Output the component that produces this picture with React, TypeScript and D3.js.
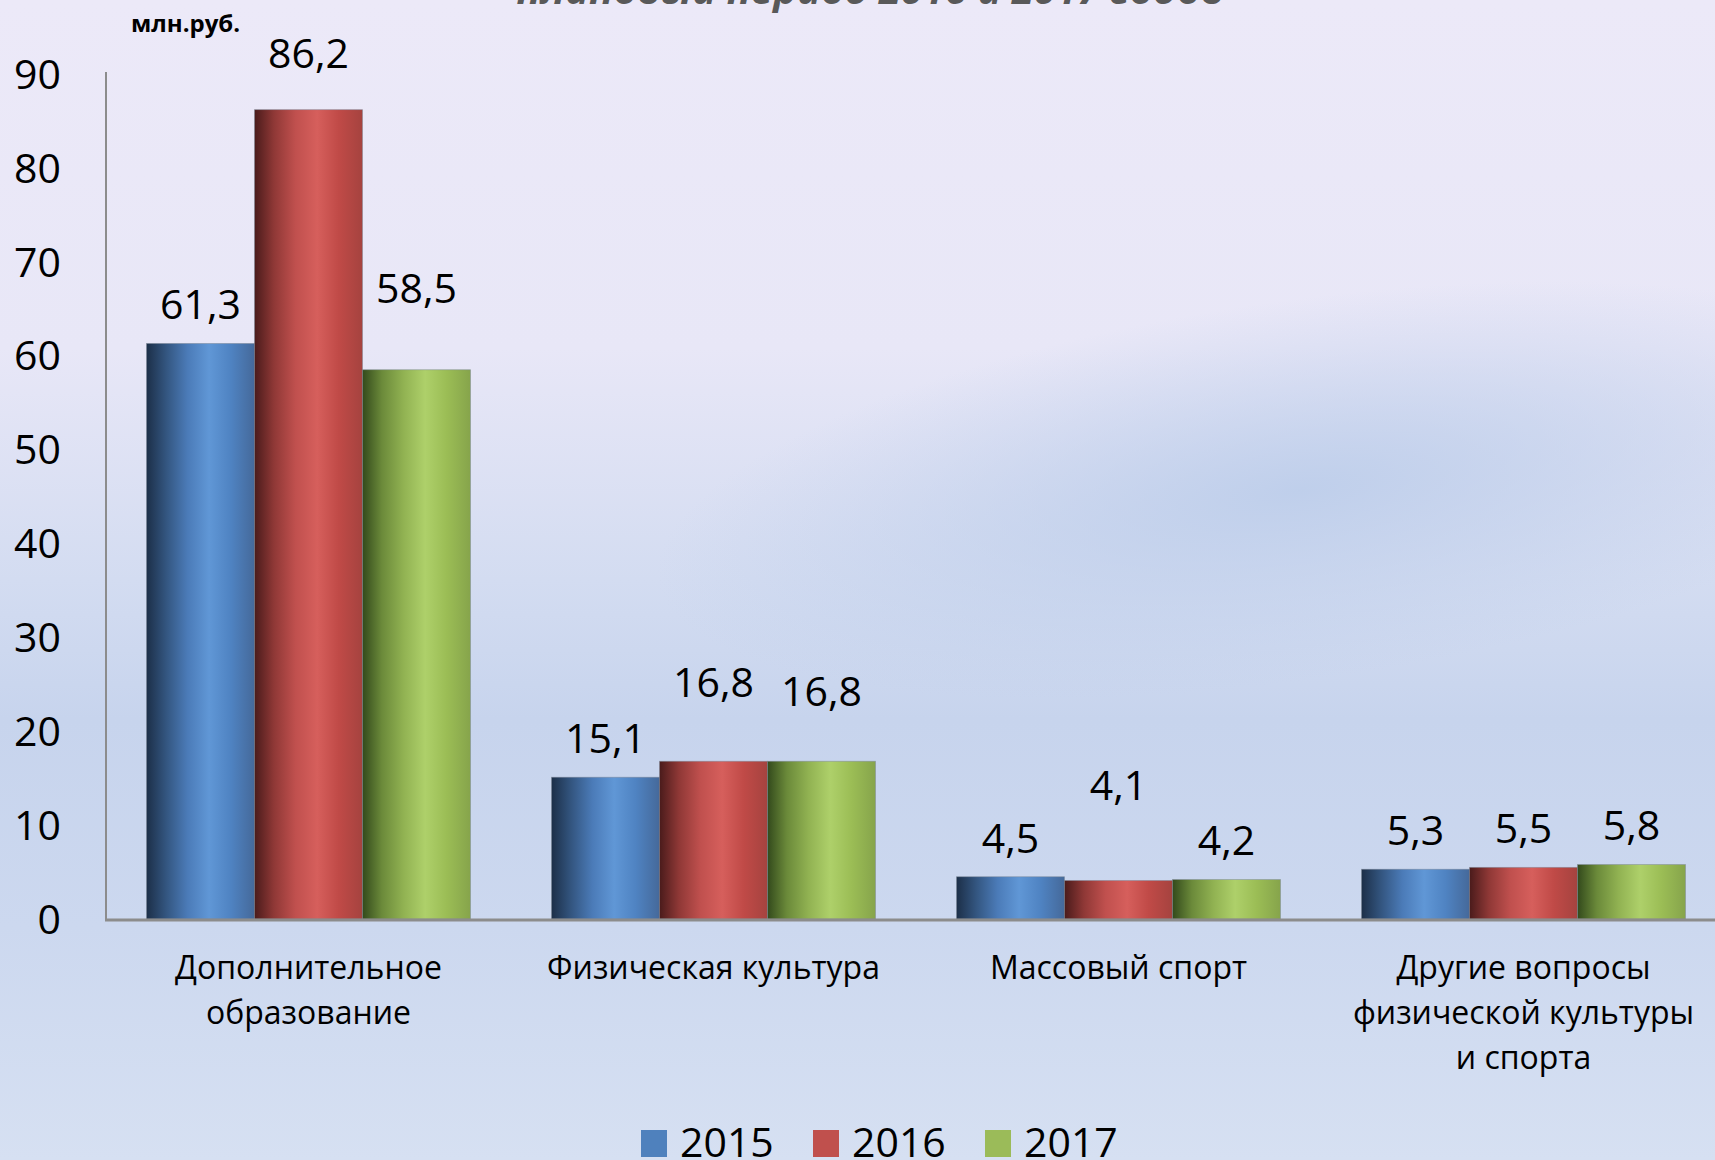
import React, { useEffect, useRef } from 'react';
import * as d3 from 'd3';

const categories = [
    "Дополнительное\nобразование",
    "Физическая культура",
    "Массовый спорт",
    "Другие вопросы\nфизической культуры\nи спорта",
];
const years = ["2015", "2016", "2017"];
const values2015 = [61.3, 15.1, 4.5, 5.3];
const values2016 = [86.2, 16.8, 4.1, 5.5];
const values2017 = [58.5, 16.8, 4.2, 5.8];
const yTicks = [0, 10, 20, 30, 40, 50, 60, 70, 80, 90];

// extra lift for labels that were dragged by hand in the original
const labelNudge = [
    [0, 17, 43],
    [0, 40, 31],
    [0, 56, 0],
    [0, 0, 0],
];

const W = 1715;
const H = 1160;
const FONT = "'Open Sans', 'DejaVu Sans', sans-serif";

function App() {
    const ref = useRef<SVGSVGElement>(null);

    useEffect(() => {
        document.body.style.margin = '0';
        const series = [values2015, values2016, values2017];
        const gradStops = [
            ["#1c2f48", "#33557f", "#4b7bb8", "#6097d6", "#4f83c2", "#45699a"],
            ["#4a1b1b", "#8f3836", "#c0504e", "#d65f5c", "#c04a47", "#a5433f"],
            ["#334a1c", "#6b8a3a", "#91b252", "#aed06a", "#9bbd55", "#86a44b"],
        ];
        const legendColors = ["#4f81bd", "#c0504d", "#9bbb59"];

        const svg = d3.select(ref.current);
        svg.selectAll("*").remove();
        const defs = svg.append("defs");

        // background
        const bg = defs.append("linearGradient").attr("id", "bg")
            .attr("x1", "0%").attr("x2", "0%").attr("y1", "0%").attr("y2", "100%");
        [["0%", "#ece9f8"], ["30%", "#e8e7f7"], ["50%", "#d3dcf1"], ["62%", "#c7d4ed"], ["80%", "#ccd8ef"], ["100%", "#d6e0f2"]]
            .forEach(s => bg.append("stop").attr("offset", s[0]).attr("stop-color", s[1]));
        const blob = defs.append("radialGradient").attr("id", "blob")
            .attr("cx", "50%").attr("cy", "50%").attr("r", "50%");
        blob.append("stop").attr("offset", "0%").attr("stop-color", "#bccdea").attr("stop-opacity", 0.9);
        blob.append("stop").attr("offset", "100%").attr("stop-color", "#bccdea").attr("stop-opacity", 0);

        svg.append("rect").attr("width", W).attr("height", H).attr("fill", "url(#bg)");
        svg.append("ellipse").attr("cx", 1300).attr("cy", 490).attr("rx", 650).attr("ry", 190)
            .attr("fill", "url(#blob)").attr("transform", "rotate(-8 1300 490)");

        gradStops.forEach((stops, i) => {
            const g = defs.append("linearGradient").attr("id", "bar" + i)
                .attr("x1", "0%").attr("x2", "100%").attr("y1", "0%").attr("y2", "0%");
            const offs = ["0%", "18%", "38%", "58%", "78%", "100%"];
            stops.forEach((c, k) => g.append("stop").attr("offset", offs[k]).attr("stop-color", c));
        });

        const x = d3.scaleBand().domain(categories).range([106, 1726]).paddingInner(0.2).paddingOuter(0.1);
        const xs = d3.scaleBand().domain(years).range([0, x.bandwidth()]);
        const y = d3.scaleLinear().domain([0, 90]).range([919, 74]);

        // title remnant (cut off at the top in the original)
        svg.append("text")
            .attr("x", 870).attr("y", 4)
            .attr("text-anchor", "middle")
            .attr("font-family", FONT).attr("font-size", 40)
            .attr("font-weight", "bold").attr("font-style", "italic")
            .attr("fill", "#595959")
            .text("плановый период 2016 и 2017 годов");

        svg.append("text")
            .attr("x", 131).attr("y", 32)
            .attr("font-family", FONT).attr("font-size", 24).attr("font-weight", "bold")
            .attr("fill", "#000")
            .text("млн.руб.");

        // y tick labels
        svg.append("g").selectAll("text").data(yTicks).enter().append("text")
            .attr("x", 61).attr("y", d => y(d))
            .attr("dy", "0.36em")
            .attr("text-anchor", "end")
            .attr("font-family", FONT).attr("font-size", 41)
            .attr("fill", "#000")
            .text(d => d);

        // bars
        const groups = svg.append("g").selectAll("g").data(categories).enter().append("g")
            .attr("transform", d => "translate(" + x(d) + ",0)");

        groups.each(function (cat, ci) {
            const g = d3.select(this);
            years.forEach((yr, si) => {
                const v = series[si][ci];
                g.append("rect")
                    .attr("x", xs(yr)!)
                    .attr("y", y(v))
                    .attr("width", xs.bandwidth())
                    .attr("height", y(0) - y(v))
                    .attr("fill", "url(#bar" + si + ")")
                    .attr("stroke", "#7d8796").attr("stroke-width", 0.8).attr("stroke-opacity", 0.6);
                g.append("text")
                    .attr("x", xs(yr)! + xs.bandwidth() / 2)
                    .attr("y", y(v) - 39 - labelNudge[ci][si])
                    .attr("dy", "0.36em")
                    .attr("text-anchor", "middle")
                    .attr("font-family", FONT).attr("font-size", 41)
                    .attr("fill", "#000")
                    .text(d3.format(".1f")(v).replace(".", ","));
            });
        });

        // axes lines
        svg.append("line").attr("x1", 106).attr("x2", 106).attr("y1", 72).attr("y2", 920)
            .attr("stroke", "#8c8c8c").attr("stroke-width", 2);
        svg.append("line").attr("x1", 105).attr("x2", W).attr("y1", 920).attr("y2", 920)
            .attr("stroke", "#8c8c8c").attr("stroke-width", 3);

        // category labels
        svg.append("g").selectAll("text").data(categories).enter().append("text")
            .attr("text-anchor", "middle")
            .attr("font-family", FONT).attr("font-size", 32)
            .attr("fill", "#000")
            .each(function (d) {
                const t = d3.select(this);
                d.split("\n").forEach((line, i) => {
                    t.append("tspan")
                        .attr("x", x(d)! + x.bandwidth() / 2)
                        .attr("y", 979 + i * 45)
                        .text(line);
                });
            });

        // legend
        const legend = svg.append("g").selectAll("g").data(years).enter().append("g")
            .attr("transform", (d, i) => "translate(" + (641 + i * 172) + ",1130)");
        legend.append("rect").attr("width", 26).attr("height", 27)
            .attr("fill", (d, i) => legendColors[i]);
        legend.append("text")
            .attr("x", 39).attr("y", 27)
            .attr("font-family", FONT).attr("font-size", 41)
            .attr("fill", "#000")
            .text(d => d);
    }, []);

    return (
        <svg ref={ref} width={W} height={H} style={{ display: 'block' }}></svg>
    );
}

export default App;
